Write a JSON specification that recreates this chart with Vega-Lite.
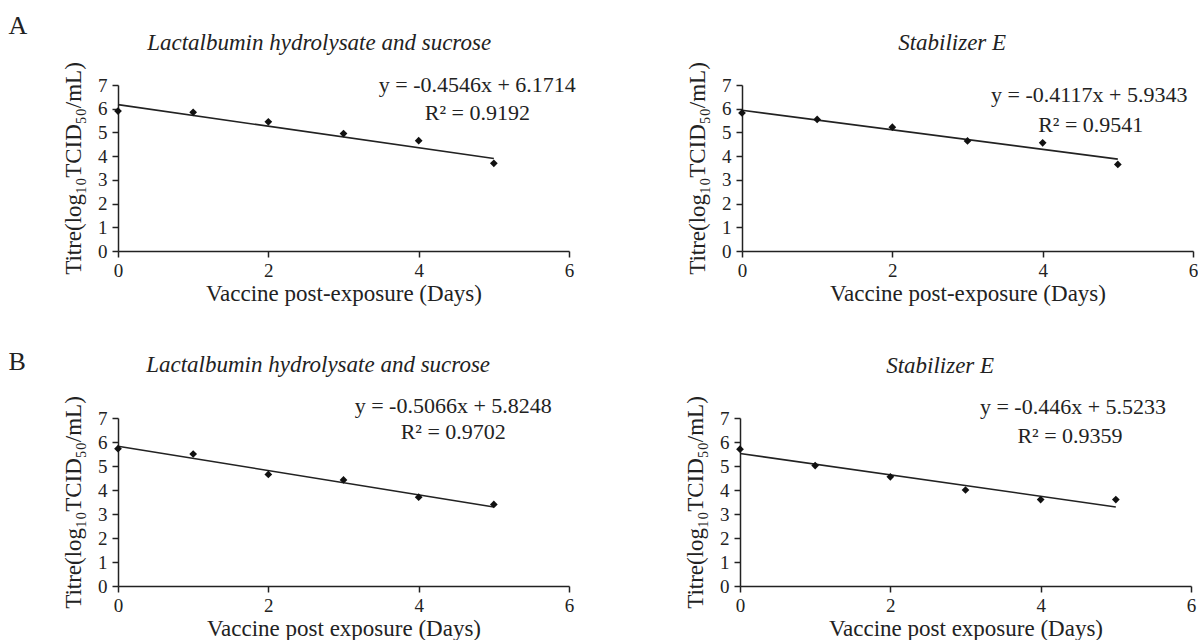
{
  "$schema": "https://vega.github.io/schema/vega-lite/v6.json",
  "background": "white",
  "padding": {"left": 8, "top": 12, "right": 0, "bottom": 0},
  "datasets": {
    "points": [
      {"panel": "A1", "day": 0, "titre": 5.9},
      {"panel": "A1", "day": 1, "titre": 5.85},
      {"panel": "A1", "day": 2, "titre": 5.45},
      {"panel": "A1", "day": 3, "titre": 4.95},
      {"panel": "A1", "day": 4, "titre": 4.65},
      {"panel": "A1", "day": 5, "titre": 3.7},
      {"panel": "A2", "day": 0, "titre": 5.82},
      {"panel": "A2", "day": 1, "titre": 5.55},
      {"panel": "A2", "day": 2, "titre": 5.22},
      {"panel": "A2", "day": 3, "titre": 4.64},
      {"panel": "A2", "day": 4, "titre": 4.56},
      {"panel": "A2", "day": 5, "titre": 3.65},
      {"panel": "B1", "day": 0, "titre": 5.72},
      {"panel": "B1", "day": 1, "titre": 5.5},
      {"panel": "B1", "day": 2, "titre": 4.65},
      {"panel": "B1", "day": 3, "titre": 4.42},
      {"panel": "B1", "day": 4, "titre": 3.7},
      {"panel": "B1", "day": 5, "titre": 3.4},
      {"panel": "B2", "day": 0, "titre": 5.7},
      {"panel": "B2", "day": 1, "titre": 5.02},
      {"panel": "B2", "day": 2, "titre": 4.55},
      {"panel": "B2", "day": 3, "titre": 4.0},
      {"panel": "B2", "day": 4, "titre": 3.6},
      {"panel": "B2", "day": 5, "titre": 3.6}
    ],
    "fits": [
      {"panel": "A1", "day": 0, "titre": 6.1714},
      {"panel": "A1", "day": 5, "titre": 3.8984},
      {"panel": "A2", "day": 0, "titre": 5.9343},
      {"panel": "A2", "day": 5, "titre": 3.8758},
      {"panel": "B1", "day": 0, "titre": 5.8248},
      {"panel": "B1", "day": 5, "titre": 3.2918},
      {"panel": "B2", "day": 0, "titre": 5.5233},
      {"panel": "B2", "day": 5, "titre": 3.2933}
    ],
    "eqs": [
      {"panel": "A1", "eq": "y = -0.4546x + 6.1714", "r2": "R² = 0.9192"},
      {"panel": "A2", "eq": "y = -0.4117x + 5.9343", "r2": "R² = 0.9541"},
      {"panel": "B1", "eq": "y = -0.5066x + 5.8248", "r2": "R² = 0.9702"},
      {"panel": "B2", "eq": "y = -0.446x + 5.5233", "r2": "R² = 0.9359"}
    ]
  },
  "vconcat": [
    {
      "title": {"text": "A", "anchor": "start", "fontStyle": "normal", "fontSize": 26, "offset": -7, "dx": -54},
      "spacing": 110,
      "hconcat": [
        {
          "width": 451, "height": 166,
          "title": {"text": "Lactalbumin hydrolysate and sucrose", "offset": 7, "frame": "bounds"},
          "layer": [
            {"data": {"name": "fits"}, "transform": [{"filter": "datum.panel === 'A1'"}],
             "mark": {"type": "line", "color": "#222", "strokeWidth": 1.6},
             "encoding": {
               "x": {"field": "day", "type": "quantitative", "scale": {"domain": [0, 6], "nice": false, "zero": false}, "axis": {"values": [0, 2, 4, 6], "format": "d", "title": "Vaccine post-exposure (Days)"}},
               "y": {"field": "titre", "type": "quantitative", "scale": {"domain": [0, 7], "nice": false}, "axis": {"values": [0, 1, 2, 3, 4, 5, 6, 7], "format": "d", "title": "Titre(log₁₀TCID₅₀/mL)"}}}},
            {"data": {"name": "points"}, "transform": [{"filter": "datum.panel === 'A1'"}],
             "mark": {"type": "point", "shape": "diamond", "filled": true, "color": "#111", "size": 60, "opacity": 1},
             "encoding": {
               "x": {"field": "day", "type": "quantitative", "scale": {"domain": [0, 6], "nice": false, "zero": false}, "axis": {"values": [0, 2, 4, 6], "format": "d", "title": "Vaccine post-exposure (Days)"}},
               "y": {"field": "titre", "type": "quantitative", "scale": {"domain": [0, 7], "nice": false}, "axis": {"values": [0, 1, 2, 3, 4, 5, 6, 7], "format": "d", "title": "Titre(log₁₀TCID₅₀/mL)"}}}},
            {"data": {"name": "eqs"}, "transform": [{"filter": "datum.panel === 'A1'"}],
             "mark": {"type": "text", "fontSize": 22, "color": "#222"},
             "encoding": {
               "x": {"datum": 4.78, "type": "quantitative", "scale": {"domain": [0, 6], "nice": false, "zero": false}, "axis": {"values": [0, 2, 4, 6], "format": "d", "title": "Vaccine post-exposure (Days)"}},
               "y": {"datum": 7.0, "type": "quantitative", "scale": {"domain": [0, 7], "nice": false}, "axis": {"values": [0, 1, 2, 3, 4, 5, 6, 7], "format": "d", "title": "Titre(log₁₀TCID₅₀/mL)"}},
               "text": {"field": "eq"}}},
            {"data": {"name": "eqs"}, "transform": [{"filter": "datum.panel === 'A1'"}],
             "mark": {"type": "text", "fontSize": 22, "color": "#222"},
             "encoding": {
               "x": {"datum": 4.78, "type": "quantitative", "scale": {"domain": [0, 6], "nice": false, "zero": false}, "axis": {"values": [0, 2, 4, 6], "format": "d", "title": "Vaccine post-exposure (Days)"}},
               "y": {"datum": 5.82, "type": "quantitative", "scale": {"domain": [0, 7], "nice": false}, "axis": {"values": [0, 1, 2, 3, 4, 5, 6, 7], "format": "d", "title": "Titre(log₁₀TCID₅₀/mL)"}},
               "text": {"field": "r2"}}}
          ]
        },
        {
          "width": 451, "height": 166,
          "title": {"text": "Stabilizer E", "offset": 7, "frame": "bounds", "dx": 10},
          "layer": [
            {"data": {"name": "fits"}, "transform": [{"filter": "datum.panel === 'A2'"}],
             "mark": {"type": "line", "color": "#222", "strokeWidth": 1.6},
             "encoding": {
               "x": {"field": "day", "type": "quantitative", "scale": {"domain": [0, 6], "nice": false, "zero": false}, "axis": {"values": [0, 2, 4, 6], "format": "d", "title": "Vaccine post-exposure (Days)"}},
               "y": {"field": "titre", "type": "quantitative", "scale": {"domain": [0, 7], "nice": false}, "axis": {"values": [0, 1, 2, 3, 4, 5, 6, 7], "format": "d", "title": "Titre(log₁₀TCID₅₀/mL)"}}}},
            {"data": {"name": "points"}, "transform": [{"filter": "datum.panel === 'A2'"}],
             "mark": {"type": "point", "shape": "diamond", "filled": true, "color": "#111", "size": 60, "opacity": 1},
             "encoding": {
               "x": {"field": "day", "type": "quantitative", "scale": {"domain": [0, 6], "nice": false, "zero": false}, "axis": {"values": [0, 2, 4, 6], "format": "d", "title": "Vaccine post-exposure (Days)"}},
               "y": {"field": "titre", "type": "quantitative", "scale": {"domain": [0, 7], "nice": false}, "axis": {"values": [0, 1, 2, 3, 4, 5, 6, 7], "format": "d", "title": "Titre(log₁₀TCID₅₀/mL)"}}}},
            {"data": {"name": "eqs"}, "transform": [{"filter": "datum.panel === 'A2'"}],
             "mark": {"type": "text", "fontSize": 22, "color": "#222"},
             "encoding": {
               "x": {"datum": 4.62, "type": "quantitative", "scale": {"domain": [0, 6], "nice": false, "zero": false}, "axis": {"values": [0, 2, 4, 6], "format": "d", "title": "Vaccine post-exposure (Days)"}},
               "y": {"datum": 6.58, "type": "quantitative", "scale": {"domain": [0, 7], "nice": false}, "axis": {"values": [0, 1, 2, 3, 4, 5, 6, 7], "format": "d", "title": "Titre(log₁₀TCID₅₀/mL)"}},
               "text": {"field": "eq"}}},
            {"data": {"name": "eqs"}, "transform": [{"filter": "datum.panel === 'A2'"}],
             "mark": {"type": "text", "fontSize": 22, "color": "#222"},
             "encoding": {
               "x": {"datum": 4.64, "type": "quantitative", "scale": {"domain": [0, 6], "nice": false, "zero": false}, "axis": {"values": [0, 2, 4, 6], "format": "d", "title": "Vaccine post-exposure (Days)"}},
               "y": {"datum": 5.31, "type": "quantitative", "scale": {"domain": [0, 7], "nice": false}, "axis": {"values": [0, 1, 2, 3, 4, 5, 6, 7], "format": "d", "title": "Titre(log₁₀TCID₅₀/mL)"}},
               "text": {"field": "r2"}}}
          ]
        }
      ]
    },
    {
      "title": {"text": "B", "anchor": "start", "fontStyle": "normal", "fontSize": 26, "offset": -21, "dx": -54},
      "spacing": 110,
      "hconcat": [
        {
          "width": 451, "height": 168,
          "title": {"text": "Lactalbumin hydrolysate and sucrose", "offset": 18, "frame": "bounds"},
          "layer": [
            {"data": {"name": "fits"}, "transform": [{"filter": "datum.panel === 'B1'"}],
             "mark": {"type": "line", "color": "#222", "strokeWidth": 1.6},
             "encoding": {
               "x": {"field": "day", "type": "quantitative", "scale": {"domain": [0, 6], "nice": false, "zero": false}, "axis": {"values": [0, 2, 4, 6], "format": "d", "title": "Vaccine post exposure (Days)"}},
               "y": {"field": "titre", "type": "quantitative", "scale": {"domain": [0, 7], "nice": false}, "axis": {"values": [0, 1, 2, 3, 4, 5, 6, 7], "format": "d", "title": "Titre(log₁₀TCID₅₀/mL)"}}}},
            {"data": {"name": "points"}, "transform": [{"filter": "datum.panel === 'B1'"}],
             "mark": {"type": "point", "shape": "diamond", "filled": true, "color": "#111", "size": 60, "opacity": 1},
             "encoding": {
               "x": {"field": "day", "type": "quantitative", "scale": {"domain": [0, 6], "nice": false, "zero": false}, "axis": {"values": [0, 2, 4, 6], "format": "d", "title": "Vaccine post exposure (Days)"}},
               "y": {"field": "titre", "type": "quantitative", "scale": {"domain": [0, 7], "nice": false}, "axis": {"values": [0, 1, 2, 3, 4, 5, 6, 7], "format": "d", "title": "Titre(log₁₀TCID₅₀/mL)"}}}},
            {"data": {"name": "eqs"}, "transform": [{"filter": "datum.panel === 'B1'"}],
             "mark": {"type": "text", "fontSize": 22, "color": "#222"},
             "encoding": {
               "x": {"datum": 4.46, "type": "quantitative", "scale": {"domain": [0, 6], "nice": false, "zero": false}, "axis": {"values": [0, 2, 4, 6], "format": "d", "title": "Vaccine post exposure (Days)"}},
               "y": {"datum": 7.5, "type": "quantitative", "scale": {"domain": [0, 7], "nice": false}, "axis": {"values": [0, 1, 2, 3, 4, 5, 6, 7], "format": "d", "title": "Titre(log₁₀TCID₅₀/mL)"}},
               "text": {"field": "eq"}}},
            {"data": {"name": "eqs"}, "transform": [{"filter": "datum.panel === 'B1'"}],
             "mark": {"type": "text", "fontSize": 22, "color": "#222"},
             "encoding": {
               "x": {"datum": 4.46, "type": "quantitative", "scale": {"domain": [0, 6], "nice": false, "zero": false}, "axis": {"values": [0, 2, 4, 6], "format": "d", "title": "Vaccine post exposure (Days)"}},
               "y": {"datum": 6.42, "type": "quantitative", "scale": {"domain": [0, 7], "nice": false}, "axis": {"values": [0, 1, 2, 3, 4, 5, 6, 7], "format": "d", "title": "Titre(log₁₀TCID₅₀/mL)"}},
               "text": {"field": "r2"}}}
          ]
        },
        {
          "width": 451, "height": 168,
          "title": {"text": "Stabilizer E", "offset": 18, "frame": "bounds"},
          "layer": [
            {"data": {"name": "fits"}, "transform": [{"filter": "datum.panel === 'B2'"}],
             "mark": {"type": "line", "color": "#222", "strokeWidth": 1.6},
             "encoding": {
               "x": {"field": "day", "type": "quantitative", "scale": {"domain": [0, 6], "nice": false, "zero": false}, "axis": {"values": [0, 2, 4, 6], "format": "d", "title": "Vaccine post exposure (Days)"}},
               "y": {"field": "titre", "type": "quantitative", "scale": {"domain": [0, 7], "nice": false}, "axis": {"values": [0, 1, 2, 3, 4, 5, 6, 7], "format": "d", "title": "Titre(log₁₀TCID₅₀/mL)"}}}},
            {"data": {"name": "points"}, "transform": [{"filter": "datum.panel === 'B2'"}],
             "mark": {"type": "point", "shape": "diamond", "filled": true, "color": "#111", "size": 60, "opacity": 1},
             "encoding": {
               "x": {"field": "day", "type": "quantitative", "scale": {"domain": [0, 6], "nice": false, "zero": false}, "axis": {"values": [0, 2, 4, 6], "format": "d", "title": "Vaccine post exposure (Days)"}},
               "y": {"field": "titre", "type": "quantitative", "scale": {"domain": [0, 7], "nice": false}, "axis": {"values": [0, 1, 2, 3, 4, 5, 6, 7], "format": "d", "title": "Titre(log₁₀TCID₅₀/mL)"}}}},
            {"data": {"name": "eqs"}, "transform": [{"filter": "datum.panel === 'B2'"}],
             "mark": {"type": "text", "fontSize": 22, "color": "#222"},
             "encoding": {
               "x": {"datum": 4.43, "type": "quantitative", "scale": {"domain": [0, 6], "nice": false, "zero": false}, "axis": {"values": [0, 2, 4, 6], "format": "d", "title": "Vaccine post exposure (Days)"}},
               "y": {"datum": 7.46, "type": "quantitative", "scale": {"domain": [0, 7], "nice": false}, "axis": {"values": [0, 1, 2, 3, 4, 5, 6, 7], "format": "d", "title": "Titre(log₁₀TCID₅₀/mL)"}},
               "text": {"field": "eq"}}},
            {"data": {"name": "eqs"}, "transform": [{"filter": "datum.panel === 'B2'"}],
             "mark": {"type": "text", "fontSize": 22, "color": "#222"},
             "encoding": {
               "x": {"datum": 4.39, "type": "quantitative", "scale": {"domain": [0, 6], "nice": false, "zero": false}, "axis": {"values": [0, 2, 4, 6], "format": "d", "title": "Vaccine post exposure (Days)"}},
               "y": {"datum": 6.25, "type": "quantitative", "scale": {"domain": [0, 7], "nice": false}, "axis": {"values": [0, 1, 2, 3, 4, 5, 6, 7], "format": "d", "title": "Titre(log₁₀TCID₅₀/mL)"}},
               "text": {"field": "r2"}}}
          ]
        }
      ]
    }
  ],
  "spacing": 44,
  "config": {
    "font": "Liberation Serif",
    "view": {"stroke": null},
    "axis": {
      "grid": false,
      "labelFont": "Liberation Serif", "labelFontSize": 19, "labelColor": "#222",
      "titleFont": "Liberation Serif", "titleFontSize": 23, "titleFontWeight": "normal", "titleColor": "#222",
      "domainColor": "#222", "domainWidth": 1.5,
      "tickColor": "#222", "tickWidth": 1.5, "tickSize": 6
    },
    "axisX": {"labelPadding": 4, "titlePadding": 2, "labelFlush": false},
    "axisY": {"labelPadding": 5, "titlePadding": 12},
    "title": {"font": "Liberation Serif", "fontStyle": "italic", "fontWeight": "normal", "fontSize": 23, "color": "#222"}
  }
}
